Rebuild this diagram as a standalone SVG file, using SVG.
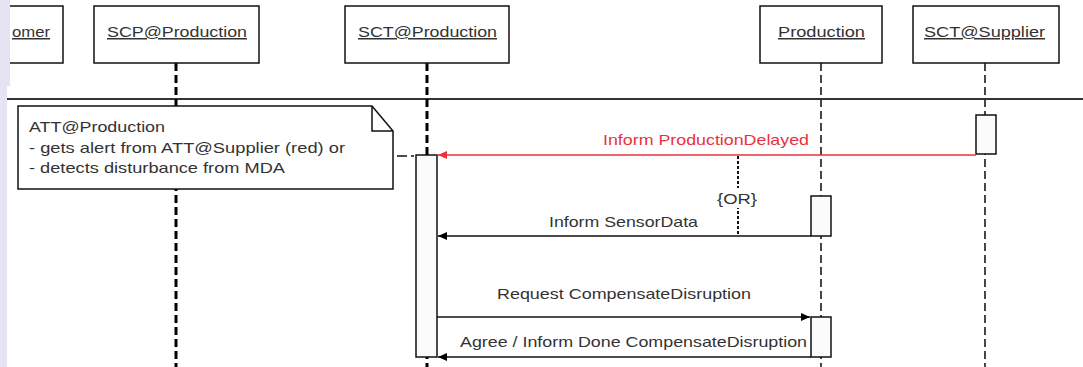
<svg xmlns="http://www.w3.org/2000/svg" width="1083" height="367" viewBox="0 0 1083 367">
<style>
text{font-family:"Liberation Sans",Arial,sans-serif;font-size:15px;fill:#333}
.lbl{text-decoration:underline;text-anchor:middle}
.box{fill:#fff;stroke:#111;stroke-width:1.5}
.act{fill:#fbfbfb;stroke:#111;stroke-width:1.5}
.lifeT{stroke:#000;stroke-width:3;stroke-dasharray:8 4;fill:none}
.life{stroke:#333;stroke-width:1.8;stroke-dasharray:8 4;fill:none}
.msg{stroke:#111;stroke-width:1.5;fill:none}
.red{stroke:#e8323c;stroke-width:1.5;fill:none}
.redt{fill:#e8323c}
</style>
<defs>
<marker id="ah" markerWidth="10" markerHeight="10" refX="9" refY="5" orient="auto" markerUnits="userSpaceOnUse"><path d="M0,1 L9,5 L0,9 Z" fill="#000"/></marker>
<marker id="ahr" markerWidth="10" markerHeight="10" refX="9" refY="5" orient="auto" markerUnits="userSpaceOnUse"><path d="M0,1 L9,5 L0,9 Z" fill="#e8323c"/></marker>
</defs>
<rect x="0" y="0" width="1083" height="367" fill="#fff"/>
<line x1="7" y1="99" x2="1083" y2="99" stroke="#333" stroke-width="2"/>
<g id="lifelines">
<line class="lifeT" x1="176" y1="63" x2="176" y2="367"/>
<line class="lifeT" x1="427" y1="63" x2="427" y2="367"/>
<line class="life" x1="821" y1="63" x2="821" y2="367"/>
<line class="life" x1="985" y1="63" x2="985" y2="367"/>
</g>
<g id="customer">
<rect class="box" x="-20" y="6" width="83" height="57"/>
<text x="12" y="37" textLength="38" lengthAdjust="spacingAndGlyphs" style="text-decoration:underline">omer</text>
</g>
<g id="scp-production">
<rect class="box" x="94" y="6" width="165" height="57"/>
<text class="lbl" x="177" y="37" textLength="140" lengthAdjust="spacingAndGlyphs">SCP@Production</text>
</g>
<g id="sct-production">
<rect class="box" x="345" y="6" width="164" height="57"/>
<text class="lbl" x="427.5" y="37" textLength="139" lengthAdjust="spacingAndGlyphs">SCT@Production</text>
</g>
<g id="production">
<rect class="box" x="760" y="6" width="122" height="57"/>
<text class="lbl" x="821.5" y="37" textLength="87" lengthAdjust="spacingAndGlyphs">Production</text>
</g>
<g id="sct-supplier">
<rect class="box" x="913" y="6" width="146" height="57"/>
<text class="lbl" x="984.5" y="37" textLength="121" lengthAdjust="spacingAndGlyphs">SCT@Supplier</text>
</g>
<g id="note">
<path class="box" d="M18,106 L372,106 L393,131 L393,189 L18,189 Z"/>
<path d="M372,106 L372,131 L393,131" fill="none" stroke="#111" stroke-width="1.5"/>
<text x="29" y="132" textLength="136" lengthAdjust="spacingAndGlyphs">ATT@Production</text>
<text x="29" y="153" textLength="316" lengthAdjust="spacingAndGlyphs"> - gets alert from ATT@Supplier (red) or</text>
<text x="29" y="173" textLength="256" lengthAdjust="spacingAndGlyphs"> - detects disturbance from MDA</text>
</g>
<g id="activations">
<rect class="act" x="416" y="155" width="21" height="202"/>
<rect class="act" x="976" y="115" width="20" height="39"/>
<rect class="act" x="811" y="196" width="20" height="40"/>
<rect class="act" x="811" y="317" width="20" height="40"/>
</g>
<g id="connectors">
<line x1="397" y1="156" x2="414" y2="156" stroke="#111" stroke-width="1.5" stroke-dasharray="10 4"/>
<line class="red" x1="976" y1="155" x2="438" y2="155" marker-end="url(#ahr)"/>
<text class="redt" x="706" y="145" text-anchor="middle" textLength="206" lengthAdjust="spacingAndGlyphs">Inform ProductionDelayed</text>
<line x1="738" y1="156" x2="738" y2="236" stroke="#111" stroke-width="2" stroke-dasharray="3 2"/>
<rect x="716" y="188" width="44" height="20" fill="#fff"/>
<text x="737" y="204" text-anchor="middle" textLength="40" lengthAdjust="spacingAndGlyphs">{OR}</text>
<line class="msg" x1="811" y1="236" x2="438" y2="236" marker-end="url(#ah)"/>
<text x="623.5" y="227" text-anchor="middle" textLength="149" lengthAdjust="spacingAndGlyphs">Inform SensorData</text>
<line class="msg" x1="437" y1="317" x2="810" y2="317" marker-end="url(#ah)"/>
<text x="624" y="299" text-anchor="middle" textLength="254" lengthAdjust="spacingAndGlyphs">Request CompensateDisruption</text>
<line class="msg" x1="811" y1="357" x2="438" y2="357" marker-end="url(#ah)"/>
<text x="633.5" y="347" text-anchor="middle" textLength="347" lengthAdjust="spacingAndGlyphs">Agree / Inform Done CompensateDisruption</text>
</g>
<rect x="0" y="0" width="10" height="86" fill="#e6e4f4"/>
<rect x="0" y="86" width="7" height="281" fill="#e6e4f4"/>
</svg>
